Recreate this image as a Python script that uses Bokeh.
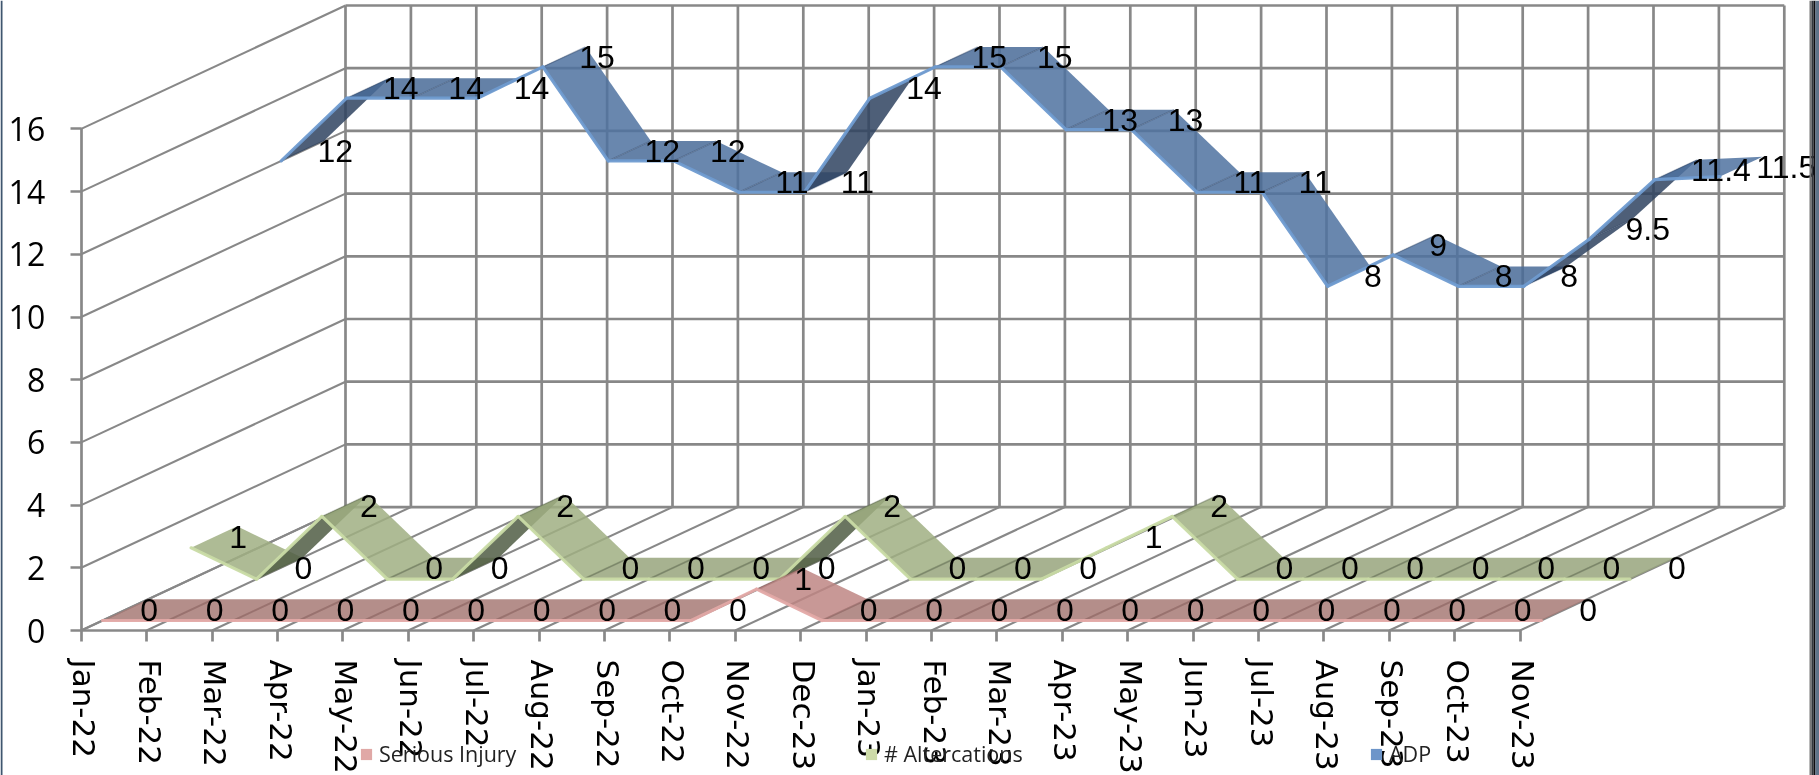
from bokeh.plotting import figure
from bokeh.models import (LinearAxis, FixedTicker, Legend, LegendItem, Range1d, BoxAnnotation,
                          ColumnDataSource)
from bokeh.core.properties import value
from bokeh.embed import file_html
from bokeh.resources import INLINE

# ---------- data ----------
months = ["Jan-22", "Feb-22", "Mar-22", "Apr-22", "May-22", "Jun-22", "Jul-22", "Aug-22",
          "Sep-22", "Oct-22", "Nov-22", "Dec-23", "Jan-23", "Feb-23", "Mar-23", "Apr-23",
          "May-23", "Jun-23", "Jul-23", "Aug-23", "Sep-23", "Oct-23", "Nov-23"]
serious_injury = [0, 0, 0, 0, 0, 0, 0, 0, 0, 0, 1, 0, 0, 0, 0, 0, 0, 0, 0, 0, 0, 0, 0]
altercations = [1, 0, 2, 0, 0, 2, 0, 0, 0, 0, 2, 0, 0, 0, 1, 2, 0, 0, 0, 0, 0, 0, 0]
adp = [12, 14, 14, 14, 15, 12, 12, 11, 11, 14, 15, 15, 13, 13, 11, 11, 8, 9, 8, 8, 9.5, 11.4, 11.5]
y_ticks = [0, 2, 4, 6, 8, 10, 12, 14, 16]

# ---------- layout of the page and the oblique 3-D projection ----------
W, H = 1819, 775
X0, Y0 = 80.7, 630.0            # pixel of category 0, value 0, on the front of the floor
PX_CAT, PX_VAL = 65.4, 31.35    # pixels per category / per value unit
DEPTH_X = 264.3 / PX_CAT        # depth vector, in category units
DEPTH_Y = 123.4 / PX_VAL        # depth vector, in value units
GRID = "#888888"
LABEL_SHIFT = 0.05              # month labels sit a little right of their ticks

def proj(i, v, t):
    return i + t * DEPTH_X, v + t * DEPTH_Y

p = figure(width=W, height=H, output_backend="svg", toolbar_location=None,
           x_range=Range1d(-X0 / PX_CAT, (W - X0) / PX_CAT),
           y_range=Range1d(-(H - Y0) / PX_VAL, Y0 / PX_VAL),
           x_axis_type=None, y_axis_type=None, min_border=0, outline_line_color=None,
           background_fill_color="white", border_fill_color="white",
           styles={"position": "fixed", "left": "0px", "top": "0px"})
p.grid.visible = False

# ---------- walls and floor ----------
n = len(months)
gx, gy = [], []
for v in y_ticks:                       # back wall horizontals
    a, b = proj(0, v, 1), proj(n - 1, v, 1)
    gx.append([a[0], b[0]]); gy.append([a[1], b[1]])
p.multi_line(gx, gy, line_color=GRID, line_width=2.7)
sx, sy = [], []
for v in y_ticks:                       # left wall slants
    a, b = proj(0, v, 0), proj(0, v, 1)
    sx.append([a[0], b[0]]); sy.append([a[1], b[1]])
for i in range(n):                      # floor slants
    a, b = proj(i, 0, 0), proj(i, 0, 1)
    sx.append([a[0], b[0]]); sy.append([a[1], b[1]])
p.multi_line(sx, sy, line_color=GRID, line_width=2.1)
vx, vy = [], []
for i in range(n):                      # back wall verticals
    a, b = proj(i, 0, 1), proj(i, y_ticks[-1], 1)
    vx.append([a[0], b[0]]); vy.append([a[1], b[1]])
p.multi_line(vx, vy, line_color=GRID, line_width=2.7)

# ---------- ribbons ----------
series = [
    # values, depth from, depth to, descending, flat, underside, edge
    (adp, .757, .918, "#4f72a0", "#496b98", "#2f4360", "#6f9bd0"),
    (altercations, .416, .590, "#a0af83", "#98a57c", "#505d44", "#c9dba5"),
    (serious_injury, .081, .253, "#be8684", "#a77a76", "#8f5f5c", "#e3a9a6"),
]
for vals, t0, t1, c_down, c_flat, c_under, c_edge in series:
    xs, ys, cols, ex, ey, jx, jy = [], [], [], [], [], [], []
    for i in range(n - 1):
        pts = [proj(i, vals[i], t0), proj(i + 1, vals[i + 1], t0),
               proj(i + 1, vals[i + 1], t1), proj(i, vals[i], t1)]
        xs.append([q[0] for q in pts]); ys.append([q[1] for q in pts])
        # pixel-space slope of the ribbon against the depth direction tells which face shows
        dx = PX_CAT; dy = (vals[i + 1] - vals[i]) * PX_VAL
        ddx = (t1 - t0) * DEPTH_X * PX_CAT; ddy = (t1 - t0) * DEPTH_Y * PX_VAL
        under = dx * ddy - dy * ddx < -1
        cols.append(c_under if under else c_flat if vals[i] == vals[i + 1] else c_down)
        ex.append([pts[0][0], pts[1][0]]); ey.append([pts[0][1], pts[1][1]])
    for i in range(1, n - 1):
        a, b = proj(i, vals[i], t0), proj(i, vals[i], t1)
        jx.append([a[0], b[0]]); jy.append([a[1], b[1]])
    p.patches(xs, ys, fill_color=cols, fill_alpha=0.85, line_color=None)
    p.multi_line(jx, jy, line_color=c_under, line_alpha=0.35, line_width=1.5)
    p.multi_line(ex, ey, line_color=c_edge, line_width=3.2, line_alpha=0.95, line_cap="round")

# ---------- data labels ----------
for vals, t0, t1, *_ in series:
    lx, ly = zip(*[proj(i, vals[i], (t0 + t1) / 2) for i in range(n)])
    src = ColumnDataSource(dict(x=lx, y=ly, t=[f"{v:g}" for v in vals]))
    p.text("x", "y", text="t", source=src, text_font=value("Liberation Sans"), text_font_size="32px",
           text_color="black", text_align="left", text_baseline="middle", x_offset=15, y_offset=0)

# ---------- axes ----------
yax = LinearAxis(fixed_location=0, ticker=FixedTicker(ticks=y_ticks), bounds=(0, y_ticks[-1]),
                 axis_line_color=GRID, axis_line_width=2.7, major_tick_line_color=GRID,
                 major_tick_line_width=2.7, major_tick_out=11, major_tick_in=0,
                 minor_tick_line_color=None, major_label_standoff=25,
                 major_label_text_font="Open Sans", major_label_text_font_size="32px",
                 major_label_text_color="black")
p.add_layout(yax, "left")
xticks = LinearAxis(fixed_location=0, ticker=FixedTicker(ticks=list(range(n))), bounds=(0, n - 1),
                    major_label_overrides={i: "" for i in range(n)},
                    axis_line_color=GRID, axis_line_width=2.7, major_tick_line_color=GRID,
                    major_tick_line_width=2.7, major_tick_out=11, major_tick_in=0,
                    minor_tick_line_color=None)
p.add_layout(xticks, "below")
label_pos = [i + LABEL_SHIFT for i in range(n)]
xlabels = LinearAxis(fixed_location=0, ticker=FixedTicker(ticks=label_pos),
                     major_label_overrides=dict(zip(label_pos, months)),
                     major_label_orientation="vertical",
                     axis_line_color=None, major_tick_line_color=None, major_tick_out=11,
                     major_tick_in=0, minor_tick_line_color=None, major_label_standoff=18,
                     major_label_text_font="DejaVu Sans", major_label_text_font_size="31px",
                     major_label_text_color="black")
p.add_layout(xlabels, "below")

# ---------- legend ----------
swatches = [("Serious Injury", "#e0a8a6"), ("# Altercations", "#cddba8"), ("ADP", "#6d95c9")]
items = []
for name, col in swatches:
    r = p.quad(left=[0], right=[0], top=[0], bottom=[0], fill_color=col, line_color=None)
    items.append(LegendItem(label=name, renderers=[r], index=0))
legend = Legend(items=items, orientation="horizontal", location=(359, 7), margin=0, padding=0,
                spacing=0, glyph_width=14, glyph_height=14, label_standoff=6, label_width=485,
                label_height=14, label_text_font="Open Sans", label_text_font_size="21.5px",
                label_text_color="#222222", background_fill_alpha=0, border_line_color=None)
p.add_layout(legend, "center")

# ---------- screenshot frame edges ----------
for l, r_, c in [(0, 2, "#3f566f"), (1809, 1811, "#777777"), (1811, 1813, "#33373d"),
                 (1813, 1815, "#0c0c10"), (1815, 1819, "#5f7389")]:
    p.add_layout(BoxAnnotation(left=l, right=r_, left_units="screen", right_units="screen",
                               fill_color=c, fill_alpha=1, line_color=None, level="overlay"))

open("out.html", "w").write(file_html(p, INLINE))
